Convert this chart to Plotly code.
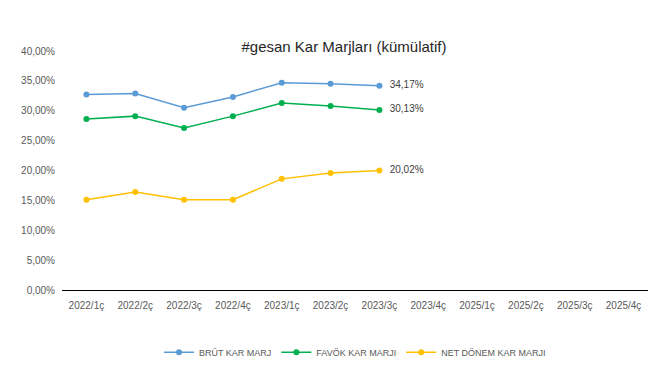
import plotly.graph_objects as go

categories = ["2022/1ç", "2022/2ç", "2022/3ç", "2022/4ç", "2023/1ç", "2023/2ç", "2023/3ç",
              "2023/4ç", "2025/1ç", "2025/2ç", "2025/3ç", "2025/4ç"]
brut = [0.327, 0.329, 0.305, 0.323, 0.347, 0.345, 0.3417]
favok = [0.286, 0.291, 0.271, 0.291, 0.313, 0.308, 0.3013]
net = [0.151, 0.164, 0.151, 0.151, 0.186, 0.196, 0.2002]

series = [
    ("BRÜT KAR MARJ", brut, "#5B9BD5"),
    ("FAVÖK KAR MARJI", favok, "#00B050"),
    ("NET DÖNEM KAR MARJI", net, "#FFC000"),
]

fig = go.Figure()
for name, vals, color in series:
    texts = [""] * (len(vals) - 1) + ["  " + f"{vals[-1]*100:.2f}%".replace(".", ",")]
    fig.add_trace(go.Scatter(
        x=categories[:len(vals)], y=vals, name=name, mode="lines+markers+text",
        line=dict(color=color, width=1.5), marker=dict(color=color, size=6),
        text=texts, textposition="middle right",
        textfont=dict(color="#404040", size=10),
        cliponaxis=False,
    ))

fig.update_layout(
    width=672, height=377,
    margin=dict(l=54, r=32, t=43, b=95),
    paper_bgcolor="white", plot_bgcolor="white",
    font=dict(family="Liberation Sans", size=10, color="#595959"),
    separators=",.",
    title=dict(text="#gesan Kar Marjları (kümülatif)", x=0.5, xanchor="center",
               y=0.897, yanchor="middle", font=dict(size=15, color="#262626")),
    showlegend=True,
    legend=dict(orientation="h", x=0.5, xanchor="center", y=-0.26, yanchor="middle",
                font=dict(size=9, color="#595959"), itemwidth=30),
    xaxis=dict(categoryorder="array", categoryarray=categories, range=[-0.5, 11.5],
               showgrid=False, showline=True, linecolor="#000000", linewidth=1,
               ticks="", tickfont=dict(size=10, color="#595959"), ticklabelstandoff=6),
    yaxis=dict(range=[0, 0.40], dtick=0.05, tickformat=".2%", showgrid=False,
               zeroline=False, showline=False, ticks="",
               tickfont=dict(size=10, color="#595959"), ticklabelstandoff=6),
)
fig.update_xaxes(type="category")
fig.write_html("out.html")
